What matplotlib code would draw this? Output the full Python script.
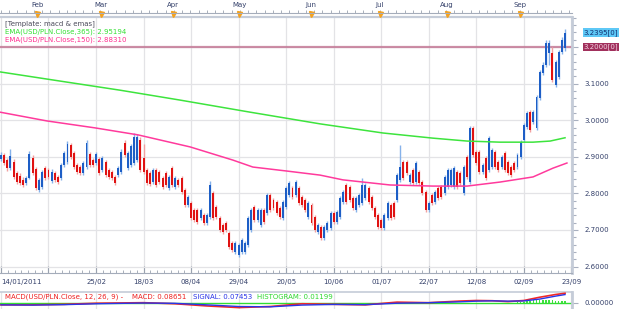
import numpy as np
import matplotlib
matplotlib.use("Agg")
import matplotlib.pyplot as plt
from matplotlib.ticker import MultipleLocator, FixedLocator
import matplotlib.transforms as mtransforms

# daily USD/PLN candles, 14/01/2011 .. 21/09/2011 (index = trading day)
opens = [
    2.894, 2.905, 2.891, 2.869, 2.886, 2.856, 2.848, 2.837, 2.828, 2.842,
    2.897, 2.867, 2.809, 2.818, 2.869, 2.864, 2.834, 2.856, 2.845, 2.842,
    2.878, 2.886, 2.932, 2.910, 2.878, 2.872, 2.856, 2.872, 2.908, 2.891,
    2.883, 2.894, 2.864, 2.886, 2.864, 2.859, 2.845, 2.850, 2.859, 2.938,
    2.869, 2.878, 2.883, 2.891, 2.946, 2.897,
    2.864, 2.856, 2.831, 2.864, 2.859, 2.842, 2.856, 2.815, 2.869, 2.818,
    2.837, 2.842, 2.809, 2.768, 2.774, 2.755, 2.755, 2.733, 2.741, 2.719,
    2.736, 2.801, 2.763, 2.733, 2.714, 2.719, 2.692, 2.665, 2.640, 2.632,
    2.640, 2.640, 2.659, 2.700, 2.763, 2.727, 2.714, 2.755, 2.746, 2.796,
    2.782, 2.777, 2.760, 2.733,
    2.763, 2.796, 2.815, 2.796, 2.815, 2.790, 2.782, 2.736, 2.768, 2.736,
    2.695, 2.708, 2.678, 2.700, 2.705, 2.746, 2.722, 2.736, 2.777, 2.823,
    2.818, 2.787, 2.755, 2.768, 2.774, 2.787, 2.815, 2.790, 2.760, 2.741,
    2.727, 2.705, 2.733, 2.768, 2.774, 2.782, 2.837, 2.886, 2.886, 2.831,
    2.864, 2.831, 2.859, 2.831, 2.804, 2.755, 2.796, 2.777, 2.815, 2.818,
    2.801, 2.818, 2.823, 2.818, 2.859, 2.856, 2.801, 2.899, 2.831, 2.979,
    2.913, 2.913, 2.859, 2.897, 2.864, 2.872, 2.913, 2.886, 2.872, 2.910,
    2.886, 2.872, 2.883, 2.872, 2.899, 2.946, 2.981, 3.022, 2.995, 2.979,
    3.061, 3.129, 3.151, 3.184, 3.184, 3.096, 3.118, 3.186, 3.197]
closes = [
    2.905, 2.883, 2.869, 2.902, 2.845, 2.831, 2.828, 2.823, 2.842, 2.908,
    2.856, 2.815, 2.837, 2.859, 2.842, 2.845, 2.859, 2.837, 2.831, 2.878,
    2.910, 2.935, 2.899, 2.872, 2.858, 2.856, 2.883, 2.938, 2.878, 2.878,
    2.908, 2.856, 2.897, 2.850, 2.845, 2.842, 2.828, 2.869, 2.913, 2.905,
    2.910, 2.930, 2.954, 2.954, 2.864, 2.859,
    2.828, 2.826, 2.864, 2.823, 2.831, 2.818, 2.823, 2.845, 2.823, 2.842,
    2.823, 2.804, 2.768, 2.790, 2.733, 2.727, 2.722, 2.755, 2.719, 2.741,
    2.823, 2.733, 2.736, 2.700, 2.695, 2.700, 2.654, 2.645, 2.665, 2.659,
    2.673, 2.665, 2.733, 2.755, 2.727, 2.755, 2.755, 2.722, 2.796, 2.755,
    2.760, 2.746, 2.736, 2.777,
    2.815, 2.828, 2.790, 2.831, 2.774, 2.768, 2.755, 2.774, 2.719, 2.700,
    2.714, 2.678, 2.708, 2.719, 2.746, 2.722, 2.749, 2.787, 2.804, 2.777,
    2.782, 2.760, 2.787, 2.796, 2.823, 2.823, 2.777, 2.760, 2.736, 2.708,
    2.705, 2.741, 2.774, 2.733, 2.736, 2.850, 2.872, 2.842, 2.856, 2.850,
    2.828, 2.883, 2.828, 2.801, 2.755, 2.774, 2.774, 2.804, 2.787, 2.790,
    2.845, 2.864, 2.864, 2.869, 2.818, 2.828, 2.872, 2.845, 2.979, 2.905,
    2.883, 2.859, 2.878, 2.842, 2.951, 2.919, 2.872, 2.864, 2.899, 2.864,
    2.856, 2.850, 2.864, 2.905, 2.940, 2.987, 3.020, 2.973, 3.022, 3.063,
    3.132, 3.151, 3.211, 3.211, 3.110, 3.159, 3.186, 3.219, 3.2395]
highs = [
    2.912, 2.910, 2.897, 2.921, 2.893, 2.860, 2.855, 2.845, 2.847, 2.915,
    2.905, 2.872, 2.842, 2.864, 2.876, 2.870, 2.866, 2.862, 2.850, 2.884,
    2.916, 2.942, 2.938, 2.916, 2.884, 2.878, 2.889, 2.945, 2.914, 2.897,
    2.914, 2.900, 2.903, 2.892, 2.870, 2.864, 2.850, 2.875, 2.920, 2.945,
    2.916, 2.936, 2.965, 2.962, 2.955, 2.936,
    2.870, 2.862, 2.870, 2.869, 2.864, 2.848, 2.862, 2.851, 2.875, 2.848,
    2.843, 2.848, 2.815, 2.796, 2.780, 2.760, 2.760, 2.760, 2.746, 2.746,
    2.835, 2.807, 2.768, 2.738, 2.719, 2.724, 2.697, 2.670, 2.670, 2.665,
    2.678, 2.670, 2.738, 2.760, 2.768, 2.760, 2.760, 2.760, 2.801, 2.801,
    2.788, 2.782, 2.766, 2.782,
    2.820, 2.834, 2.820, 2.837, 2.820, 2.796, 2.788, 2.780, 2.774, 2.741,
    2.719, 2.714, 2.714, 2.724, 2.752, 2.752, 2.755, 2.793, 2.810, 2.829,
    2.823, 2.793, 2.793, 2.801, 2.842, 2.829, 2.820, 2.796, 2.766, 2.746,
    2.733, 2.746, 2.780, 2.774, 2.780, 2.856, 2.932, 2.892, 2.892, 2.856,
    2.870, 2.889, 2.864, 2.837, 2.810, 2.780, 2.801, 2.810, 2.820, 2.823,
    2.851, 2.870, 2.870, 2.875, 2.864, 2.862, 2.878, 2.905, 2.985, 2.985,
    2.919, 2.919, 2.884, 2.903, 2.957, 2.925, 2.919, 2.892, 2.905, 2.916,
    2.892, 2.878, 2.889, 2.911, 2.946, 2.993, 3.026, 3.028, 3.028, 3.069,
    3.138, 3.160, 3.218, 3.220, 3.200, 3.165, 3.192, 3.226, 3.250]
lows = [
    2.889, 2.878, 2.862, 2.864, 2.840, 2.826, 2.822, 2.818, 2.822, 2.838,
    2.850, 2.808, 2.803, 2.812, 2.837, 2.840, 2.829, 2.831, 2.826, 2.837,
    2.872, 2.880, 2.893, 2.866, 2.853, 2.850, 2.850, 2.866, 2.872, 2.872,
    2.878, 2.850, 2.858, 2.845, 2.840, 2.837, 2.822, 2.845, 2.853, 2.899,
    2.864, 2.872, 2.878, 2.886, 2.858, 2.852,
    2.822, 2.820, 2.826, 2.817, 2.826, 2.812, 2.817, 2.809, 2.817, 2.812,
    2.818, 2.798, 2.762, 2.762, 2.727, 2.722, 2.716, 2.727, 2.714, 2.714,
    2.730, 2.727, 2.730, 2.695, 2.689, 2.695, 2.648, 2.640, 2.634, 2.627,
    2.634, 2.634, 2.654, 2.695, 2.722, 2.722, 2.708, 2.716, 2.741, 2.749,
    2.755, 2.741, 2.730, 2.727,
    2.757, 2.790, 2.785, 2.790, 2.768, 2.763, 2.749, 2.730, 2.714, 2.695,
    2.689, 2.673, 2.673, 2.695, 2.700, 2.716, 2.716, 2.730, 2.771, 2.771,
    2.777, 2.755, 2.749, 2.763, 2.768, 2.782, 2.771, 2.755, 2.730, 2.703,
    2.700, 2.700, 2.727, 2.727, 2.730, 2.777, 2.831, 2.837, 2.850, 2.826,
    2.822, 2.826, 2.822, 2.796, 2.749, 2.749, 2.768, 2.771, 2.782, 2.785,
    2.795, 2.812, 2.817, 2.812, 2.812, 2.822, 2.796, 2.840, 2.826, 2.899,
    2.878, 2.853, 2.853, 2.837, 2.859, 2.866, 2.866, 2.859, 2.866, 2.859,
    2.850, 2.845, 2.859, 2.866, 2.894, 2.940, 2.976, 2.968, 2.990, 2.973,
    3.055, 3.124, 3.145, 3.150, 3.104, 3.090, 3.112, 3.180, 3.190]

# EMA lines (trading-day index, value)
ema365_idx = [-0.3, 18.6, 37.6, 56.5, 78.6, 100.7, 120.6, 136.3, 147.1, 157.5, 167.9, 173.3, 178]
ema365_val = [3.132, 3.107, 3.082, 3.055, 3.022, 2.990, 2.965, 2.951, 2.943, 2.940, 2.940, 2.943, 2.952]
ema150_idx = [-0.3, 14.5, 29.7, 43.2, 59.7, 73.2, 79.5, 90.3, 100.7, 107.9, 122.8, 136.3,
              147.1, 157.5, 167.9, 174.2, 178.6]
ema150_val = [3.022, 2.998, 2.979, 2.960, 2.927, 2.891, 2.872, 2.861, 2.850, 2.837, 2.823, 2.820,
              2.820, 2.831, 2.845, 2.869, 2.883]

# MACD panel
macd_idx = [0, 10, 20, 30, 45, 55, 65, 75, 85, 95, 105, 115, 125, 135, 145, 150, 155, 160, 165, 170, 175, 178]
macd_val = [-0.020, -0.020, -0.015, -0.005, 0.000, -0.010, -0.030, -0.045, -0.035, -0.010, -0.015,
            -0.020, 0.005, 0.000, 0.015, 0.020, 0.018, 0.010, 0.020, 0.050, 0.075, 0.0865]
signal_val = [-0.020, -0.022, -0.018, -0.010, -0.003, -0.006, -0.020, -0.035, -0.038, -0.022, -0.016,
              -0.018, -0.005, 0.000, 0.008, 0.014, 0.017, 0.014, 0.016, 0.033, 0.060, 0.0745]
hist_idx = list(range(160, 179))
hist_val = [-0.004, -0.003, 0.000, 0.003, 0.006, 0.010, 0.014, 0.018, 0.021, 0.024,
            0.026, 0.027, 0.027, 0.025, 0.022, 0.019, 0.016, 0.014, 0.012]

date_pos = list(range(0, 181, 15))
date_labels = ["14/01/2011", "", "25/02", "18/03", "08/04", "29/04", "20/05",
               "10/06", "01/07", "22/07", "12/08", "02/09", "23/09"]
month_pos = [11.4, 31.5, 54.4, 75.2, 97.7, 119.6, 140.6, 163.8]
month_names = ["Feb", "Mar", "Apr", "May", "Jun", "Jul", "Aug", "Sep"]

W, H = 625, 309
TXT = "#34406a"
BORDER = "#c5ccd8"
FS = 5


def rect(x0, y0, x1, y1):
    return [x0 / W, 1 - y1 / H, (x1 - x0) / W, (y1 - y0) / H]


fig = plt.figure(figsize=(W / 100, H / 100), dpi=100)
fig.patch.set_facecolor("white")

# ---- main price panel
ax = fig.add_axes(rect(0, 17, 572, 273))
ax.set_xlim(-0.3, 180.2)
ax.set_ylim(2.5825, 3.282)
ax.set_axisbelow(True)

o = np.array(opens)
c = np.array(closes)
hi = np.array(highs)
lo = np.array(lows)
idx = np.arange(len(o))
up = c >= o
dn = ~up

ax.vlines(idx[up], lo[up], hi[up], color="#86b2ea", lw=1.0, zorder=2)
ax.vlines(idx[dn], lo[dn], hi[dn], color="#f2a0a0", lw=1.0, zorder=2)
ax.bar(idx[up], np.maximum(c[up] - o[up], 0.002), bottom=o[up], width=0.62,
       color="#1d5ec6", linewidth=0, zorder=3)
ax.bar(idx[dn], np.maximum(o[dn] - c[dn], 0.002), bottom=c[dn], width=0.62,
       color="#e01212", linewidth=0, zorder=3)

ax.plot(ema365_idx, ema365_val, color="#3de43d", lw=1.1, zorder=4)
ax.plot(ema150_idx, ema150_val, color="#ff3a9c", lw=1.1, zorder=4)
ax.axhline(3.2, color="#c47a96", lw=1.6, alpha=0.85, zorder=1)

ax.grid(True, which="major", color="#e3e3e6", lw=0.9)

# right price axis
ax.yaxis.tick_right()
ax.yaxis.set_major_locator(FixedLocator([2.6, 2.7, 2.8, 2.9, 3.0, 3.1, 3.2]))
ax.set_yticklabels(["2.6000", "2.7000", "2.8000", "2.9000", "3.0000", "3.1000", ""])
ax.yaxis.set_minor_locator(MultipleLocator(0.02))
ax.tick_params(axis="y", which="both", direction="out", length=4, width=0.8,
               color="#a9b0bf", labelsize=FS, labelcolor=TXT, pad=5)
ax.tick_params(axis="y", which="minor", length=3)

# bottom date ruler
ax.xaxis.set_major_locator(FixedLocator(date_pos))
ax.set_xticklabels(date_labels)
ax.xaxis.set_minor_locator(MultipleLocator(15 / 7))
ax.tick_params(axis="x", which="both", direction="in", color="#9aa2b0",
               labelsize=FS, labelcolor=TXT, pad=4.5)
ax.tick_params(axis="x", which="major", length=5, width=0.8)
ax.tick_params(axis="x", which="minor", length=2.5, width=0.6)
ax.get_xticklabels()[0].set_horizontalalignment("left")

ax.spines["left"].set_visible(False)
ax.spines["top"].set_color(BORDER)
ax.spines["top"].set_linewidth(1.6)
ax.spines["right"].set_color(BORDER)
ax.spines["right"].set_linewidth(2.0)
ax.spines["bottom"].set_color("#a4acba")
ax.spines["bottom"].set_linewidth(0.8)

# last price / level boxes
ax.text(1.02, 3.2395, "3.2395[0]", transform=mtransforms.blended_transform_factory(ax.transAxes, ax.transData),
        fontsize=FS, color="#123070", va="center", ha="left",
        bbox=dict(boxstyle="square,pad=0.12", fc="#5ec8f6", ec="none"), clip_on=False)
ax.text(1.02, 3.2, "3.2000[0]", transform=mtransforms.blended_transform_factory(ax.transAxes, ax.transData),
        fontsize=FS, color="#f3d2e2", va="center", ha="left",
        bbox=dict(boxstyle="square,pad=0.12", fc="#a1305c", ec="none"), clip_on=False)

# legend-like header texts
fig.text(5 / W, 1 - 24 / H, "[Template: macd & emas]", fontsize=FS, color="#4a4a5a", va="center")
fig.text(5 / W, 1 - 32 / H, "EMA(USD/PLN.Close,365): 2.95194", fontsize=FS, color="#33e033", va="center")
fig.text(5 / W, 1 - 40 / H, "EMA(USD/PLN.Close,150): 2.88310", fontsize=FS, color="#ff2d90", va="center")

# ---- top month ruler
axt = fig.add_axes(rect(0, 0, 572, 12.5))
axt.set_xlim(-0.3, 180.2)
axt.set_ylim(0, 1)
for s in ["top", "left", "right"]:
    axt.spines[s].set_visible(False)
axt.spines["bottom"].set_color("#a4acba")
axt.spines["bottom"].set_linewidth(0.8)
axt.set_yticks([])
axt.xaxis.set_major_locator(FixedLocator([]))
axt.xaxis.set_minor_locator(MultipleLocator(2.6))
axt.tick_params(axis="x", which="minor", direction="in", length=2.3, width=0.6, color="#9aa2b0")
for p, m in zip(month_pos, month_names):
    axt.text(p, 0.62, m, fontsize=FS, color=TXT, ha="center", va="center")
axt.plot(month_pos, [-0.12] * len(month_pos), linestyle="none", marker="v", ms=3.6,
         color="#f5a21e", clip_on=False)

# ---- MACD panel
axm = fig.add_axes(rect(0, 292, 572, 309))
axm.set_xlim(-0.3, 180.2)
axm.set_ylim(-0.058, 0.098)
axm.xaxis.set_major_locator(FixedLocator(date_pos))
axm.grid(True, axis="x", color="#e3e3e6", lw=0.9)
axm.set_axisbelow(True)
axm.tick_params(axis="x", which="both", length=0, labelbottom=False)
axm.axhline(0, color="#33dd33", lw=1.0, zorder=2)
axm.bar(hist_idx, hist_val, width=0.5, color="#3ee23e", linewidth=0, zorder=2)
axm.plot(macd_idx, macd_val, color="#f02828", lw=1.2, zorder=3)
axm.plot(macd_idx, signal_val, color="#2a35e8", lw=1.0, zorder=3)
axm.yaxis.tick_right()
axm.set_yticks([0])
axm.set_yticklabels(["0.00000"])
axm.tick_params(axis="y", direction="out", length=4, width=0.8, color="#a9b0bf",
                labelsize=FS, labelcolor=TXT, pad=5)
for s in ["left", "bottom"]:
    axm.spines[s].set_visible(False)
axm.spines["top"].set_color(BORDER)
axm.spines["top"].set_linewidth(1.2)
axm.spines["right"].set_color(BORDER)
axm.spines["right"].set_linewidth(2.0)

fig.text(5 / W, 1 - 297 / H, "MACD(USD/PLN.Close, 12, 26, 9) - ", fontsize=FS, color="#ee2020", va="center")
fig.text(132 / W, 1 - 297 / H, "MACD: 0.08651", fontsize=FS, color="#ee2020", va="center")
fig.text(193 / W, 1 - 297 / H, "SIGNAL: 0.07453", fontsize=FS, color="#2a35e8", va="center")
fig.text(257 / W, 1 - 297 / H, "HISTOGRAM: 0.01199", fontsize=FS, color="#2ed82e", va="center")

fig.savefig("out.png", dpi=100)
